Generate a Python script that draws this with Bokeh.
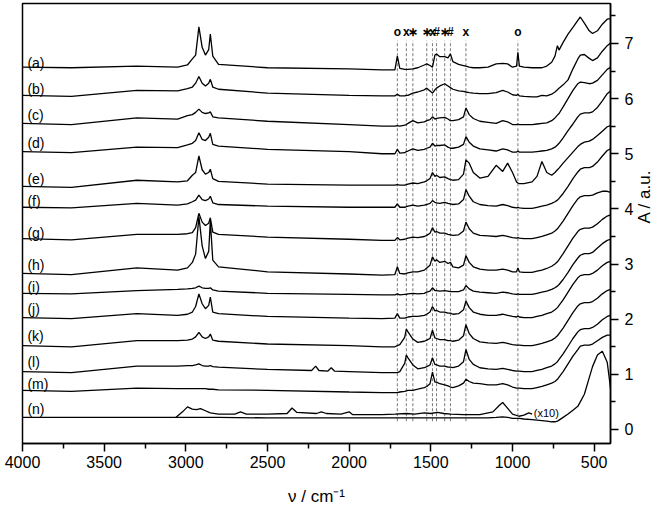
import math
from bokeh.plotting import figure
from bokeh.models import Range1d, FixedTicker
from bokeh.embed import file_html
from bokeh.resources import INLINE
from bokeh.core.properties import value

# wavenumber grid (cm-1)
wavenumber = [4000, 3700, 3300, 3050, 2990, 2960, 2940, 2920, 2900, 2880, 2860, 2850, 2835, 2800,
              2500, 2000, 1800, 1720, 1705, 1690, 1660, 1650, 1640, 1610, 1580,
              1540, 1525, 1505, 1490, 1475, 1465, 1445, 1415, 1395, 1380, 1365, 1330, 1300, 1285, 1265, 1240,
              1200, 1150, 1100, 1060, 1030, 1000, 975, 967, 958, 930, 880, 850, 820, 790, 760,
              740, 725, 715, 690, 660, 630, 600, 585, 560, 530, 510, 480, 450, 420, 400]

labels = ["(a)", "(b)", "(c)", "(d)", "(e)", "(f)", "(g)", "(h)", "(i)", "(j)", "(k)", "(l)", "(m)", "(n)"]
offsets = [6.57, 6.06, 5.55, 5.04, 4.41, 4.03, 3.46, 2.83, 2.47, 2.03, 1.52, 1.05, 0.71, 0.22]
label_y = [6.64, 6.17, 5.71, 5.19, 4.55, 4.15, 3.57, 2.99, 2.58, 2.19, 1.69, 1.22, 0.83, 0.38]

spec_a = [0, -0.01, 0.02, 0.0, 0.04, 0.15, 0.22, 0.73, 0.36, 0.22, 0.32, 0.6, 0.2, 0.05,
          -0.01, -0.03, -0.05, -0.05, 0.2, -0.02, -0.04, -0.04, -0.04, -0.03, -0.01,
          0.04, 0.06, 0.03, 0.0, 0.22, 0.24, 0.19, 0.19, 0.17, 0.24, 0.1, 0.05, 0.03, 0.02, 0.0, -0.01,
          -0.01, 0.0, 0.06, 0.07, 0.06, 0.0, 0.02, 0.27, 0.02, 0.0, -0.01, -0.01, -0.01, 0.02, 0.09,
          0.2, 0.39, 0.31, 0.45, 0.6, 0.72, 0.85, 0.91, 0.8, 0.66, 0.61, 0.66, 0.78, 0.87, 0.88]
spec_b = [0, -0.02, 0.09, 0.08, 0.12, 0.15, 0.22, 0.34, 0.22, 0.17, 0.22, 0.29, 0.15, 0.11,
          0.04, 0.0, -0.01, -0.01, 0.02, -0.01, -0.01, 0.0, 0.0, 0.04, 0.06,
          0.1, 0.13, 0.08, 0.04, 0.1, 0.13, 0.17, 0.21, 0.17, 0.14, 0.11, 0.08, 0.07, 0.06, 0.05, 0.04,
          0.03, 0.03, 0.05, 0.09, 0.06, 0.01, 0.0, 0.02, -0.01, -0.02, -0.03, -0.03, 0.0, -0.01, 0.02,
          0.06, 0.1, 0.13, 0.19, 0.28, 0.48, 0.66, 0.73, 0.74, 0.67, 0.63, 0.68, 0.8, 0.9, 0.95]
spec_c = [0, -0.02, 0.1, 0.08, 0.14, 0.16, 0.2, 0.26, 0.2, 0.18, 0.19, 0.21, 0.12, 0.1,
          0.04, -0.02, -0.05, -0.05, -0.04, -0.05, -0.03, -0.02, 0.0, 0.05, 0.01,
          0.03, 0.05, 0.07, 0.12, 0.08, 0.09, 0.1, 0.11, 0.08, 0.05, 0.05, 0.07, 0.12, 0.28, 0.16, 0.09,
          0.04, 0.02, 0.0, 0.05, 0.03, -0.02, -0.02, -0.01, -0.02, -0.02, -0.02, -0.01, 0.0, 0.01, 0.05,
          0.1, 0.15, 0.18, 0.3, 0.45, 0.6, 0.72, 0.75, 0.74, 0.72, 0.73, 0.78, 0.88, 0.98, 1.02]
spec_d = [0, -0.02, 0.08, 0.07, 0.12, 0.15, 0.2, 0.34, 0.22, 0.2, 0.26, 0.33, 0.13, 0.1,
          0.04, 0.0, -0.04, -0.04, 0.04, -0.03, -0.02, 0.0, 0.01, 0.05, 0.02,
          0.04, 0.06, 0.08, 0.15, 0.1, 0.11, 0.11, 0.12, 0.08, 0.06, 0.06, 0.08, 0.13, 0.27, 0.17, 0.1,
          0.05, 0.03, 0.01, 0.05, 0.03, -0.01, -0.01, 0.01, -0.01, -0.01, -0.01, 0.0, 0.01, 0.02, 0.05,
          0.08, 0.12, 0.15, 0.25, 0.38, 0.5, 0.63, 0.68, 0.7, 0.7, 0.72, 0.8, 0.92, 1.05, 1.1]
spec_e = [0, -0.02, 0.11, 0.08, 0.1, 0.2, 0.25, 0.55, 0.3, 0.22, 0.25, 0.31, 0.14, 0.09,
          0.04, 0.02, 0.02, 0.02, 0.03, 0.02, 0.02, 0.03, 0.04, 0.06, 0.05,
          0.08, 0.1, 0.14, 0.25, 0.18, 0.2, 0.16, 0.17, 0.14, 0.12, 0.11, 0.12, 0.22, 0.48, 0.42, 0.25,
          0.15, 0.18, 0.38, 0.27, 0.42, 0.25, 0.08, 0.06, 0.05, 0.05, 0.08, 0.18, 0.45, 0.25, 0.2,
          0.25, 0.3, 0.33, 0.42, 0.52, 0.62, 0.72, 0.76, 0.8, 0.82, 0.85, 0.92, 1.0, 1.08, 1.1]
spec_f = [0, -0.01, 0.07, 0.04, 0.06, 0.1, 0.13, 0.22, 0.14, 0.12, 0.15, 0.2, 0.08, 0.05,
          0.02, 0.0, 0.0, 0.0, 0.06, 0.0, 0.0, 0.01, 0.02, 0.04, 0.02,
          0.04, 0.05, 0.07, 0.12, 0.09, 0.08, 0.07, 0.09, 0.07, 0.06, 0.05, 0.06, 0.14, 0.32, 0.2, 0.1,
          0.05, 0.03, 0.02, 0.05, 0.03, 0.0, -0.01, 0.0, -0.01, -0.02, -0.02, 0.0, 0.02, 0.04, 0.07,
          0.1, 0.13, 0.16, 0.25, 0.38, 0.52, 0.64, 0.69, 0.72, 0.72, 0.74, 0.82, 0.93, 1.03, 1.06]
spec_g = [0, -0.02, 0.08, 0.08, 0.09, 0.11, 0.2, 0.46, 0.3, 0.24, 0.28, 0.38, 0.12, 0.08,
          0.03, -0.01, -0.03, -0.03, 0.02, -0.02, -0.01, 0.0, 0.01, 0.03, 0.02,
          0.04, 0.06, 0.1, 0.2, 0.12, 0.13, 0.1, 0.1, 0.08, 0.07, 0.06, 0.07, 0.14, 0.3, 0.18, 0.1,
          0.06, 0.05, 0.04, 0.06, 0.04, 0.02, 0.01, 0.02, 0.01, 0.0, 0.0, 0.02, 0.04, 0.07, 0.1,
          0.14, 0.18, 0.22, 0.32, 0.46, 0.6, 0.72, 0.76, 0.78, 0.78, 0.79, 0.83, 0.86, 0.86, 0.84]
spec_h = [0, -0.02, 0.1, 0.06, 0.1, 0.2, 0.35, 1.03, 0.5, 0.27, 0.4, 0.95, 0.24, 0.12,
          0.03, -0.01, -0.03, -0.02, 0.12, 0.0, -0.01, 0.0, 0.01, 0.03, 0.03,
          0.06, 0.1, 0.15, 0.3, 0.22, 0.25, 0.2, 0.22, 0.18, 0.2, 0.12, 0.1, 0.15, 0.32, 0.2, 0.12,
          0.08, 0.06, 0.06, 0.08, 0.06, 0.03, 0.03, 0.1, 0.03, 0.02, 0.02, 0.04, 0.06, 0.09, 0.13,
          0.17, 0.21, 0.25, 0.36, 0.5, 0.64, 0.76, 0.8, 0.82, 0.82, 0.84, 0.9, 0.98, 1.04, 1.06]
spec_i = [0, -0.01, 0.05, 0.07, 0.08, 0.09, 0.1, 0.13, 0.1, 0.09, 0.09, 0.1, 0.06, 0.04,
          0.0, -0.02, -0.03, -0.03, -0.01, -0.03, -0.02, -0.02, -0.01, 0.0, -0.01,
          0.0, 0.02, 0.04, 0.1, 0.05, 0.05, 0.04, 0.05, 0.04, 0.03, 0.03, 0.03, 0.06, 0.14, 0.08, 0.04,
          0.02, 0.01, 0.0, 0.02, 0.01, -0.01, -0.02, -0.01, -0.02, -0.02, -0.02, 0.0, 0.02, 0.04, 0.07,
          0.1, 0.13, 0.16, 0.25, 0.38, 0.52, 0.64, 0.69, 0.72, 0.72, 0.74, 0.82, 0.9, 0.96, 0.98]
spec_j = [0, -0.02, 0.07, 0.04, 0.06, 0.1, 0.2, 0.43, 0.25, 0.16, 0.22, 0.37, 0.1, 0.07,
          0.02, -0.01, -0.02, -0.01, 0.07, -0.01, -0.01, 0.0, 0.01, 0.02, 0.02,
          0.04, 0.06, 0.1, 0.2, 0.12, 0.13, 0.1, 0.1, 0.08, 0.08, 0.06, 0.07, 0.14, 0.3, 0.18, 0.1,
          0.06, 0.04, 0.04, 0.06, 0.04, 0.02, 0.01, 0.03, 0.01, 0.0, 0.0, 0.02, 0.04, 0.07, 0.1,
          0.14, 0.18, 0.22, 0.32, 0.46, 0.6, 0.72, 0.76, 0.78, 0.78, 0.8, 0.86, 0.94, 1.0, 1.02]
spec_k = [0, -0.02, 0.09, 0.09, 0.1, 0.12, 0.16, 0.24, 0.16, 0.13, 0.16, 0.21, 0.1, 0.08,
          0.03, 0.0, -0.02, -0.02, 0.0, 0.02, 0.15, 0.3, 0.25, 0.12, 0.06,
          0.08, 0.1, 0.13, 0.28, 0.14, 0.13, 0.11, 0.11, 0.09, 0.09, 0.08, 0.1, 0.18, 0.38, 0.22, 0.13,
          0.07, 0.05, 0.04, 0.06, 0.04, 0.02, 0.01, 0.01, 0.01, 0.0, 0.0, 0.02, 0.04, 0.07, 0.1,
          0.14, 0.18, 0.22, 0.32, 0.46, 0.6, 0.72, 0.76, 0.78, 0.78, 0.8, 0.86, 0.94, 1.0, 1.02]
# (l) has extra small bands near 2200 / 2100 cm-1
wn_l = [4000, 3700, 3300, 3050, 2990, 2960, 2940, 2920, 2900, 2880, 2860, 2850, 2835, 2800,
        2500, 2230, 2205, 2185, 2130, 2110, 2090, 2000, 1800, 1720, 1705, 1690, 1660, 1650, 1640, 1610, 1580,
        1540, 1525, 1505, 1490, 1475, 1465, 1445, 1415, 1395, 1380, 1365, 1330, 1300, 1285, 1265, 1240,
        1200, 1150, 1100, 1060, 1030, 1000, 975, 967, 958, 930, 880, 850, 820, 790, 760,
        740, 725, 715, 690, 660, 630, 600, 585, 560, 530, 510, 480, 450, 420, 400]
spec_l = [0, -0.02, 0.1, 0.1, 0.11, 0.11, 0.12, 0.14, 0.11, 0.1, 0.1, 0.11, 0.09, 0.08,
          0.04, 0.02, 0.1, 0.02, 0.01, 0.07, 0.01, 0.0, -0.02, -0.02, -0.02, 0.0, 0.15, 0.3, 0.25, 0.12, 0.05,
          0.07, 0.09, 0.12, 0.25, 0.13, 0.12, 0.1, 0.1, 0.08, 0.08, 0.07, 0.1, 0.18, 0.4, 0.22, 0.13,
          0.07, 0.05, 0.04, 0.06, 0.04, 0.02, 0.01, 0.01, 0.01, 0.0, 0.0, 0.02, 0.04, 0.07, 0.1,
          0.14, 0.18, 0.22, 0.32, 0.46, 0.6, 0.72, 0.76, 0.78, 0.78, 0.8, 0.86, 0.94, 1.0, 1.02]
spec_m = [0, -0.02, 0.04, 0.03, 0.03, 0.03, 0.03, 0.03, 0.03, 0.03, 0.02, 0.02, 0.02, 0.01,
          0.0, -0.03, -0.04, -0.04, -0.04, -0.03, -0.02, -0.01, 0.0, 0.0, 0.02,
          0.05, 0.07, 0.12, 0.33, 0.15, 0.15, 0.12, 0.1, 0.08, 0.06, 0.05, 0.08, 0.13, 0.2, 0.16, 0.13,
          0.12, 0.1, 0.1, 0.12, 0.1, 0.06, 0.04, 0.04, 0.04, 0.03, 0.03, 0.05, 0.07, 0.1, 0.13,
          0.16, 0.2, 0.24, 0.34, 0.48, 0.62, 0.74, 0.8, 0.82, 0.82, 0.84, 0.9, 0.96, 1.0, 1.0]
# (n): measured spectrum, nearly flat except lattice region
spec_n = [0, 0.0, 0.0, 0.0, 0.0, 0.0, 0.0, 0.0, 0.0, 0.0, 0.0, 0.0, 0.0, 0.0,
          -0.01, -0.01, -0.01, -0.01, -0.01, -0.01, -0.01, -0.01, -0.01, -0.01, -0.01,
          -0.01, -0.01, -0.01, -0.01, -0.01, -0.01, -0.01, -0.01, -0.01, -0.01, -0.01, -0.01, -0.01, -0.01, -0.01, -0.01,
          -0.01, -0.01, 0.0, 0.01, 0.0, -0.02, -0.02, -0.02, -0.02, -0.03, -0.04, -0.05, -0.06, -0.07, -0.08,
          -0.08, -0.07, -0.05, 0.0, 0.06, 0.13, 0.2, 0.28, 0.42, 0.72, 0.92, 1.13, 1.2, 1.0, 0.53]
# (n) magnified x10 part
n10_wn = [3060, 3020, 2990, 2960, 2935, 2910, 2880, 2850, 2800, 2700, 2665, 2630, 2500, 2380, 2350,
          2320, 2200, 2170, 2140, 2050, 2000, 1980, 1900, 1800, 1720, 1650, 1600, 1540, 1500, 1460,
          1420, 1380, 1300, 1200, 1120, 1080, 1060, 1040, 1000, 960, 930, 900, 880]
n10_abs = [0.0, 0.1, 0.19, 0.15, 0.14, 0.16, 0.12, 0.08, 0.06, 0.06, 0.1, 0.06, 0.06, 0.07, 0.17,
           0.09, 0.07, 0.1, 0.07, 0.06, 0.1, 0.05, 0.05, 0.05, 0.06, 0.07, 0.06, 0.08, 0.07, 0.09,
           0.07, 0.06, 0.05, 0.05, 0.1, 0.22, 0.27, 0.2, 0.06, 0.02, 0.04, 0.08, 0.06]

grid_spectra = [spec_a, spec_b, spec_c, spec_d, spec_e, spec_f, spec_g,
                spec_h, spec_i, spec_j, spec_k, None, spec_m, spec_n]

band_pos = [1705, 1650, 1610, 1525, 1490, 1465, 1415, 1380, 1285, 967]
band_sym = ["o", "x", "\u2217", "\u2217", "x", "#", "\u2217", "#", "x", "o"]

xticks = [4000, 3500, 3000, 2500, 2000, 1500, 1000, 500]
xminor = [3750, 3250, 2750, 2250, 1750, 1250, 750]
yticks = [0, 1, 2, 3, 4, 5, 6, 7]
yminor = [0.5, 1.5, 2.5, 3.5, 4.5, 5.5, 6.5, 7.5]

FONT = "Liberation Sans"

p = figure(width=666, height=512, x_range=Range1d(4000, 400), y_range=Range1d(-0.254, 7.725),
           output_backend="svg", toolbar_location=None, y_axis_location="right",
           min_border_left=22, min_border_right=53, min_border_top=3, min_border_bottom=69)
p.xgrid.visible = False
p.ygrid.visible = False
p.outline_line_color = "black"
p.outline_line_width = 1.5
p.background_fill_color = "white"

for ax in (p.xaxis[0], p.yaxis[0]):
    ax.axis_line_width = 1.5
    ax.axis_line_color = "black"
    ax.major_tick_line_color = "black"
    ax.major_tick_line_width = 1.5
    ax.minor_tick_line_color = "black"
    ax.minor_tick_line_width = 1.5
    ax.major_tick_in = 0
    ax.major_tick_out = 8
    ax.minor_tick_in = 0
    ax.minor_tick_out = 5
    ax.major_label_text_font = FONT
    ax.major_label_text_font_size = "16px"
    ax.major_label_text_color = "black"
    ax.axis_label_text_font = FONT
    ax.axis_label_text_font_size = "17px"
    ax.axis_label_text_font_style = "normal"
    ax.axis_label_text_color = "black"

p.xaxis[0].ticker = FixedTicker(ticks=xticks, minor_ticks=xminor)
p.yaxis[0].ticker = FixedTicker(ticks=yticks, minor_ticks=yminor)
p.xaxis[0].axis_label = "\u03bd / cm\u207b\u00b9"
p.yaxis[0].axis_label = "A / a.u."
p.yaxis[0].axis_label_orientation = math.pi / 2
p.xaxis[0].major_label_standoff = 4
p.xaxis[0].axis_label_standoff = 16
p.yaxis[0].major_label_standoff = 6
p.yaxis[0].axis_label_standoff = 8

# dashed band markers
p.segment(x0=band_pos, x1=band_pos, y0=[0.15] * len(band_pos), y1=[7.05] * len(band_pos),
          line_color="#555555", line_width=0.8, line_dash="3 2")
p.text(x=band_pos, y=[7.2] * len(band_pos), text=band_sym, text_align="center",
       text_baseline="middle", text_font=value(FONT), text_font_size="12px",
       text_font_style="bold", text_color="black")

for spec, off in zip(grid_spectra, offsets):
    if spec is None:
        continue
    p.line(x=wavenumber, y=[v + off for v in spec], line_color="black", line_width=1.3)

p.line(x=wn_l, y=[v + offsets[11] for v in spec_l], line_color="black", line_width=1.3)
p.line(x=n10_wn, y=[v + offsets[13] for v in n10_abs], line_color="black", line_width=1.3)

p.text(x=[3970] * len(labels), y=label_y, text=labels, text_align="left", text_baseline="middle",
       text_font=value(FONT), text_font_size="14px", text_color="black")
p.text(x=[870], y=[0.3], text=["(x10)"], text_align="left", text_baseline="middle",
       text_font=value(FONT), text_font_size="11px", text_color="black")

open("out.html", "w").write(file_html(p, INLINE))
